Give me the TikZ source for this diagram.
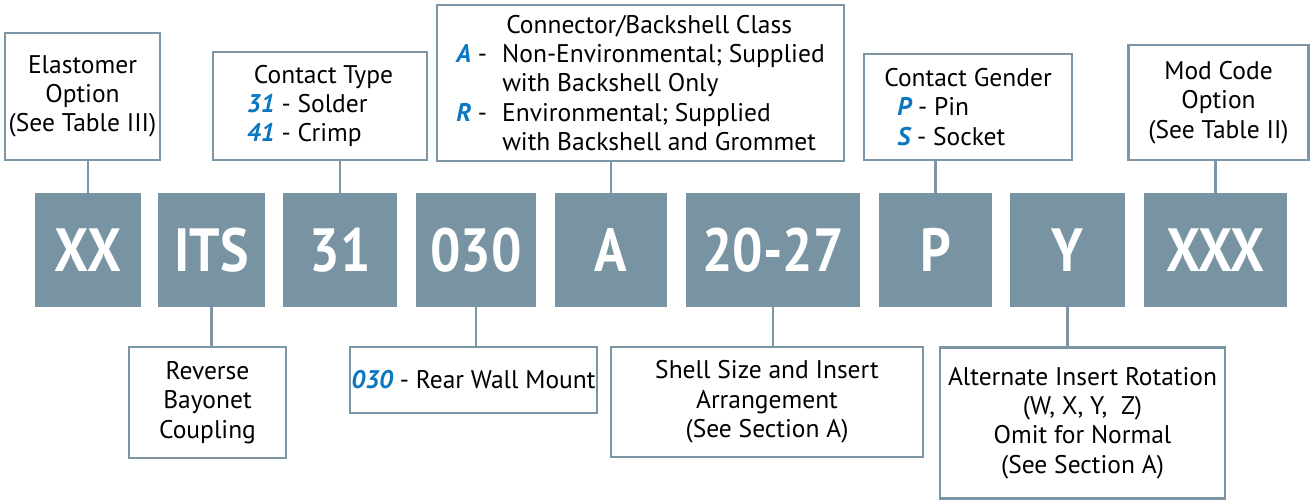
\documentclass[tikz,border=0pt]{standalone}
\usepackage{fontspec}
\setmainfont{PT Sans}
\newfontfamily\codefont{PT Sans}[FakeStretch=0.88]
\usepackage{xcolor}
\usetikzlibrary{positioning}

\definecolor{slate}{HTML}{7894A3}
\definecolor{edge}{HTML}{7D96A5}
\definecolor{optblue}{HTML}{0A77C0}
\newcommand{\opt}[1]{{\bfseries\itshape\color{optblue}#1}}

\begin{document}
\begin{tikzpicture}[
        x=1pt, y=-1pt,
        codebox/.style={rectangle, fill=slate, inner sep=0pt, minimum height=114pt,
            text=white, font=\codefont\bfseries\fontsize{61}{61}\selectfont},
        descbox/.style={rectangle, draw=edge, line width=2.5pt, fill=white, inner sep=0pt,
            align=center, font=\fontsize{25.5}{29.3}\selectfont},
        leader/.style={draw=edge, line width=2.5pt}
    ]
        \useasboundingbox (0,0) rectangle (1311,501);

        % part number fields
        \node[codebox, minimum width=106pt] (xx)     at (88,250)     {XX};
        \node[codebox, minimum width=107pt] (its)    at (211.5,250)  {ITS};
        \node[codebox, minimum width=114pt] (ctc)    at (340,250)    {31};
        \node[codebox, minimum width=120pt] (mount)  at (476,250)    {030};
        \node[codebox, minimum width=112pt] (cls)    at (611,250)    {A};
        \node[codebox, minimum width=174pt] (shell)  at (773,250)    {20-27};
        \node[codebox, minimum width=113pt] (gender) at (935.5,250)  {P};
        \node[codebox, minimum width=115pt] (rot)    at (1067.5,250) {Y};
        \node[codebox, minimum width=143pt] (mod)    at (1215.5,250) {XXX};

        % descriptions above
        \node[descbox, minimum width=155pt, minimum height=127pt] (elast) at (82.5,96.5)
            {Elastomer\\Option\\(See Table III)};
        \node[descbox, minimum width=214pt, minimum height=108pt, align=left] (ctype) at (320,106)
            {\hspace{7pt}Contact Type\\\opt{31} - Solder\\\opt{41} - Crimp};
        \node[descbox, minimum width=407pt, minimum height=156pt, align=left] (bclass) at (640.5,83)
            {\hspace{50pt}Connector/Backshell Class\\
             \makebox[46pt][l]{\opt{A} -}Non-Environmental; Supplied\\
             \hspace{46pt}with Backshell Only\\
             \makebox[46pt][l]{\opt{R} -}Environmental; Supplied\\
             \hspace{46pt}with Backshell and Grommet};
        \node[descbox, minimum width=208pt, minimum height=106pt, align=left] (cgender) at (968,107)
            {Contact Gender\\\hspace{13pt}\opt{P} - Pin\\\hspace{13pt}\opt{S} - Socket};
        \node[descbox, minimum width=180pt, minimum height=115pt] (modcode) at (1218.5,102.5)
            {Mod Code\\Option\\(See Table II)};

        % descriptions below
        \node[descbox, minimum width=157pt, minimum height=111pt] (coupling) at (207.5,402.5)
            {Reverse\\Bayonet\\Coupling};
        \node[descbox, minimum width=247pt, minimum height=66pt] (rearwall) at (473.5,380)
            {\opt{030} - Rear Wall Mount};
        \node[descbox, minimum width=312pt, minimum height=110pt] (sizearr) at (767,402)
            {Shell Size and Insert\\Arrangement\\(See Section A)};
        \node[descbox, minimum width=285pt, minimum height=151pt] (altrot) at (1082.5,423)
            {Alternate Insert Rotation\\(W, X, Y,\ \ Z)\\Omit for Normal\\(See Section A)};

        % leaders
        \draw[leader] (xx.north) -- (xx.north |- elast.south);
        \draw[leader] (ctc.north) -- (ctc.north |- ctype.south);
        \draw[leader] (cls.north) -- (cls.north |- bclass.south);
        \draw[leader] (gender.north) -- (gender.north |- cgender.south);
        \draw[leader] (mod.north) -- (mod.north |- modcode.south);
        \draw[leader] (its.south) -- (its.south |- coupling.north);
        \draw[leader] (mount.south) -- (mount.south |- rearwall.north);
        \draw[leader] (shell.south) -- (shell.south |- sizearr.north);
        \draw[leader] (rot.south) -- (rot.south |- altrot.north);
    \end{tikzpicture}
\end{document}
